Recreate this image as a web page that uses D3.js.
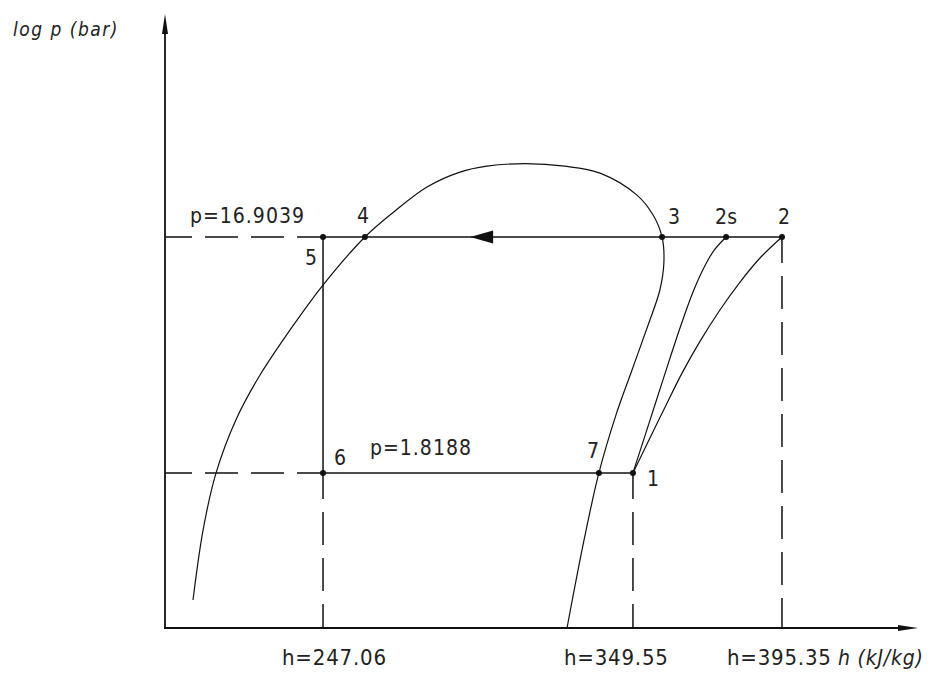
<!DOCTYPE html>
<html>
<head>
<meta charset="utf-8">
<script src="https://cdn.jsdelivr.net/npm/d3@7"></script>
<style>
  body { margin: 0; background: #fff; }
  text { font-family: "DejaVu Sans Condensed", "DejaVu Sans", sans-serif; fill: #222; }
</style>
</head>
<body>
<div id="chart"></div>
<script>
// axis extents (h in kJ/kg, p in bar, log scale)
const hDomain = [196, 439.3]
const pDomain = [0.42, 139]

// cycle state points
const stateIds = ["1", "2s", "2", "3", "4", "5", "6", "7"]
const stateH = [347.2, 377.3, 395.35, 356.6, 260.6, 247.06, 247.06, 336.2]
const stateP = [1.8188, 16.9039, 16.9039, 16.9039, 16.9039, 16.9039, 1.8188, 1.8188]

// saturation dome (liquid line -> critical region -> vapour line)
const domeH = [205.05, 208.3, 212.5, 218.9, 226.7, 236.4, 247.05, 260.6, 270.3, 280.65, 291.3, 300.0, 312.3, 325.2, 336.55, 348.5, 353.7, 356.6, 357.2, 355.9, 352.1, 346.9, 341.7, 336.2, 331.4, 325.9]
const domeP = [0.547, 1.06, 1.8188, 3.0, 4.586, 7.02, 10.73, 16.9039, 21.6, 27.1, 31.2, 33.0, 33.8, 33.0, 30.9, 25.1, 20.8, 16.9039, 13.3, 10.24, 7.36, 4.81, 3.14, 1.8188, 0.965, 0.42]

// compression 1 -> 2s (isentropic) and 1 -> 2 (real)
const comp2sH = [347.2, 352.4, 357.6, 362.4, 366.6, 370.2, 373.4, 377.3]
const comp2sP = [1.8188, 2.91, 4.67, 7.15, 10.05, 12.7, 14.9, 16.9039]
const comp2H = [347.2, 352.1, 357.6, 363.05, 368.9, 375.3, 381.8, 388.25, 395.35]
const comp2P = [1.8188, 2.44, 3.39, 4.67, 6.32, 8.48, 11.04, 13.86, 16.9039]

// labels
const pLabels = ["p=16.9039", "p=1.8188"]
const hLabels = ["h=247.06", "h=349.55", "h=395.35"]
const hTickValues = [247.06, 347.2, 395.35]
const yTitle = "log p (bar)"
const xTitle = "h (kJ/kg)"

const width = 936
const height = 675

const svg = d3.select("#chart")
  .append("svg")
  .attr("width", width)
  .attr("height", height)

const x = d3.scaleLinear().domain(hDomain).range([165, 918])
const y = d3.scaleLog().domain(pDomain).range([628, 14])

const pt = i => [x(stateH[i]), y(stateP[i])]
const idx = id => stateIds.indexOf(id)

const dash = "33,13"
const ink = "#111"

// axes with arrow heads
svg.append("line")
  .attr("x1", x(hDomain[0])).attr("y1", y(pDomain[0]))
  .attr("x2", x(hDomain[0])).attr("y2", y(pDomain[1]) + 16)
  .attr("stroke", ink).attr("stroke-width", 1.8)
svg.append("path")
  .attr("d", d3.line()([[x(hDomain[0]), y(pDomain[1])], [x(hDomain[0]) - 3, y(pDomain[1]) + 20], [x(hDomain[0]) + 3, y(pDomain[1]) + 20]]))
  .attr("fill", ink)

svg.append("line")
  .attr("x1", x(hDomain[0]) - 1).attr("y1", y(pDomain[0]))
  .attr("x2", x(hDomain[1]) - 16).attr("y2", y(pDomain[0]))
  .attr("stroke", ink).attr("stroke-width", 1.8)
svg.append("path")
  .attr("d", d3.line()([[x(hDomain[1]), y(pDomain[0])], [x(hDomain[1]) - 20, y(pDomain[0]) - 3], [x(hDomain[1]) - 20, y(pDomain[0]) + 3]]))
  .attr("fill", ink)

// dashed guides to the axes
const guides = [
  [pt(idx("5")), [x(hDomain[0]), y(stateP[idx("5")])]],
  [pt(idx("6")), [x(hDomain[0]), y(stateP[idx("6")])]],
  [pt(idx("6")), [x(stateH[idx("6")]), y(pDomain[0])]],
  [pt(idx("1")), [x(stateH[idx("1")]), y(pDomain[0])]],
  [pt(idx("2")), [x(stateH[idx("2")]), y(pDomain[0])]]
]
svg.selectAll(".guide")
  .data(guides)
  .join("path")
    .attr("class", "guide")
    .attr("d", d => d3.line()(d))
    .attr("stroke", ink)
    .attr("stroke-width", 1.5)
    .attr("stroke-dasharray", dash)
    .attr("stroke-dashoffset", 7)
    .attr("fill", "none")

// cycle solid lines
const solid = [
  [pt(idx("5")), pt(idx("2"))],
  [pt(idx("6")), pt(idx("1"))],
  [pt(idx("5")), pt(idx("6"))]
]
svg.selectAll(".cycle")
  .data(solid)
  .join("path")
    .attr("class", "cycle")
    .attr("d", d => d3.line()(d))
    .attr("stroke", ink)
    .attr("stroke-width", 1.5)
    .attr("fill", "none")

// direction arrow on the condensing line
const yHigh = y(stateP[idx("3")])
const arrowTip = x(stateH[idx("4")]) + 0.354 * (x(stateH[idx("3")]) - x(stateH[idx("4")]))
svg.append("path")
  .attr("d", d3.line()([[arrowTip, yHigh], [arrowTip + 23, yHigh - 6.5], [arrowTip + 23, yHigh + 6.5]]))
  .attr("fill", ink)

// saturation dome
const curve = d3.line().curve(d3.curveCatmullRom.alpha(0.5))
svg.append("path")
  .attr("d", curve(domeH.map((h, i) => [x(h), y(domeP[i])])))
  .attr("stroke", ink)
  .attr("stroke-width", 1.2)
  .attr("fill", "none")

// compression lines
svg.append("path")
  .attr("d", curve(comp2sH.map((h, i) => [x(h), y(comp2sP[i])])))
  .attr("stroke", ink)
  .attr("stroke-width", 1.2)
  .attr("fill", "none")
svg.append("path")
  .attr("d", curve(comp2H.map((h, i) => [x(h), y(comp2P[i])])))
  .attr("stroke", ink)
  .attr("stroke-width", 1.2)
  .attr("fill", "none")

// state points
svg.selectAll(".state")
  .data(stateIds)
  .join("circle")
    .attr("class", "state")
    .attr("cx", (d, i) => x(stateH[i]))
    .attr("cy", (d, i) => y(stateP[i]))
    .attr("r", 3)
    .attr("fill", ink)

// state labels, offsets in px from each point
const labelOffset = {
  "1": [14, 13], "2s": [-11, -13], "2": [-4, -13], "3": [6, -13],
  "4": [-8, -14], "5": [-18, 28], "6": [11, -8], "7": [-12, -15]
}
svg.selectAll(".stateLabel")
  .data(stateIds)
  .join("text")
    .attr("class", "stateLabel")
    .attr("x", (d, i) => x(stateH[i]) + labelOffset[d][0])
    .attr("y", (d, i) => y(stateP[i]) + labelOffset[d][1])
    .style("font-size", "21px")
    .text(d => d)

// pressure labels
svg.append("text")
  .attr("x", x(hDomain[0]) + 25)
  .attr("y", y(stateP[idx("5")]) - 14)
  .style("font-size", "21px")
  .style("letter-spacing", "1px")
  .text(pLabels[0])
svg.append("text")
  .attr("x", x(stateH[idx("6")]) + 47)
  .attr("y", y(stateP[idx("6")]) - 18)
  .style("font-size", "21px")
  .style("letter-spacing", "1px")
  .text(pLabels[1])

// enthalpy labels under the axis
const hLabelDx = [-41, -69, -55]
svg.selectAll(".hLabel")
  .data(hLabels)
  .join("text")
    .attr("class", "hLabel")
    .attr("x", (d, i) => x(hTickValues[i]) + hLabelDx[i])
    .attr("y", y(pDomain[0]) + 37)
    .style("font-size", "22px")
    .style("letter-spacing", "0.8px")
    .text(d => d)

// axis titles
svg.append("text")
  .attr("x", 838)
  .attr("y", y(pDomain[0]) + 37)
  .style("font-size", "21px")
  .style("font-style", "italic")
  .style("letter-spacing", "0.8px")
  .text(xTitle)

svg.append("text")
  .attr("x", 13)
  .attr("y", 36)
  .style("font-size", "19px")
  .style("font-style", "italic")
  .style("letter-spacing", "1.5px")
  .text(yTitle)
</script>
</body>
</html>
